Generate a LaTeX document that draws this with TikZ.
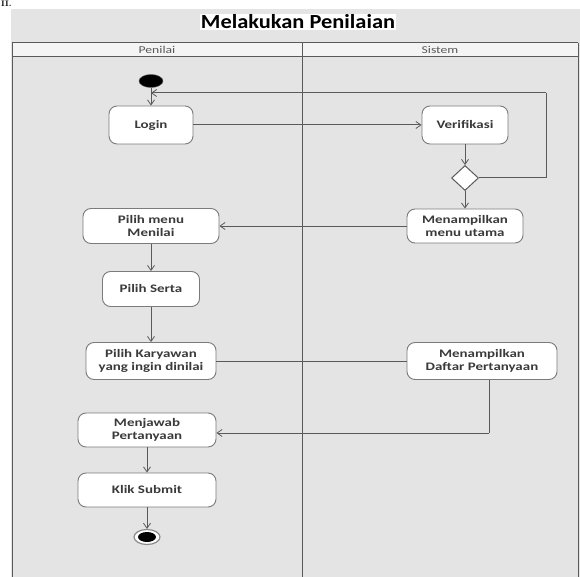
\documentclass[tikz,border=0pt]{standalone}
\usepackage{fontspec}
\usetikzlibrary{arrows.meta,shapes.geometric}
\newfontfamily\nf[FakeStretch=1.3]{Carlito}
\newfontfamily\tf[FakeStretch=1.12]{Carlito}
\definecolor{bggray}{HTML}{E4E4E4}
\definecolor{hdr}{HTML}{F4F4F4}
\definecolor{ln}{HTML}{5A5A5A}
\definecolor{txt}{HTML}{3A3A3A}
\tikzset{
  act/.style={draw=ln!80, line width=0.9pt, fill=white, rounded corners=8pt,
    font=\nf\bfseries\fontsize{11.5}{12.5}\selectfont, text=txt, align=center, inner sep=0pt},
  conn/.style={draw=ln, line width=1pt},
  arr/.style={conn, -{Straight Barb[length=5pt,width=7pt,line width=0.8pt]}},
  lane/.style={draw=ln, line width=1pt},
}
\begin{document}
\begin{tikzpicture}[x=1pt,y=-1pt]
\useasboundingbox (0,0) rectangle (580,577);
% background
\fill[bggray] (11,9) rectangle (580,577);
\node[font=\bfseries\fontsize{8}{8}\selectfont, anchor=north west, inner sep=0pt] (cut) at (1,0.5) {II.};
% title
\node[fill=white, inner sep=1pt, font=\tf\bfseries\fontsize{20}{20}\selectfont, text=black] (title) at (298,22) {Melakukan Penilaian};
% lanes
\fill[hdr] (12,43) rectangle (578,57);
\draw[lane] (12,43) -- (578,43);
\draw[lane] (12,57) -- (578,57);
\draw[lane] (12,43) -- (12,577);
\draw[lane] (578,43) -- (578,577);
\draw[lane] (302,43) -- (302,577);
\node[font=\nf\fontsize{10.5}{10.5}\selectfont, text=ln] (h1) at (157,50) {Penilai};
\node[font=\nf\fontsize{10.5}{10.5}\selectfont, text=ln] (h2) at (440,50) {Sistem};
% nodes
\node[fill=black, draw=ln, ellipse, minimum width=24pt, minimum height=13pt, inner sep=0pt] (start) at (151,81) {};
\node[act, minimum width=84pt, minimum height=38pt] (login) at (151,125) {Login};
\node[act, minimum width=86pt, minimum height=38pt] (verif) at (465,125) {Verifikasi};
\node[diamond, draw=ln, line width=1pt, fill=white, minimum width=27pt, minimum height=25pt, inner sep=0pt] (dia) at (465,178) {};
\node[act, minimum width=116pt, minimum height=34pt] (menu) at (465,226) {Menampilkan\\menu utama};
\node[act, minimum width=136pt, minimum height=35pt] (pmenu) at (151,226) {Pilih menu\\Menilai};
\node[act, minimum width=97pt, minimum height=35pt] (serta) at (151,289) {Pilih Serta};
\node[act, minimum width=130pt, minimum height=37pt] (kary) at (151,361) {Pilih Karyawan\\yang ingin dinilai};
\node[act, minimum width=150pt, minimum height=37pt] (daftar) at (482,361) {Menampilkan\\Daftar Pertanyaan};
\node[act, minimum width=138pt, minimum height=34pt] (jawab) at (147,430) {Menjawab\\Pertanyaan};
\node[act, minimum width=138pt, minimum height=34pt] (submit) at (147,490) {Klik Submit};
\node[ellipse, draw=ln!70, line width=1.2pt, fill=white, minimum width=26pt, minimum height=15pt, inner sep=0pt] (end) at (147,537) {};
\node[ellipse, fill=black, minimum width=18pt, minimum height=10pt, inner sep=0pt] (endin) at (147,537) {};
% connectors
\coordinate (j) at (151,93);
\coordinate (loopc) at (546,93);
\coordinate (c1) at (489,433);
\draw[arr] (start) -- (login);
\draw[arr] (login.east) -- (verif.west);
\draw[arr] (verif) -- (dia);
\draw[arr] (dia) -- (menu);
\draw[conn] (dia.east) -| (loopc);
\draw[arr] (loopc) -- (j);
\draw[arr] (menu.west) -- (pmenu.east);
\draw[arr] (pmenu) -- (serta);
\draw[arr] (serta) -- (kary);
\draw[conn] (kary.east) -- (daftar.west);
\draw[conn] (daftar.south -| c1) -- (c1);
\draw[arr] (c1) -- (c1 -| jawab.east);
\draw[arr] (jawab) -- (submit);
\draw[arr] (submit) -- (end);
\end{tikzpicture}
\end{document}
